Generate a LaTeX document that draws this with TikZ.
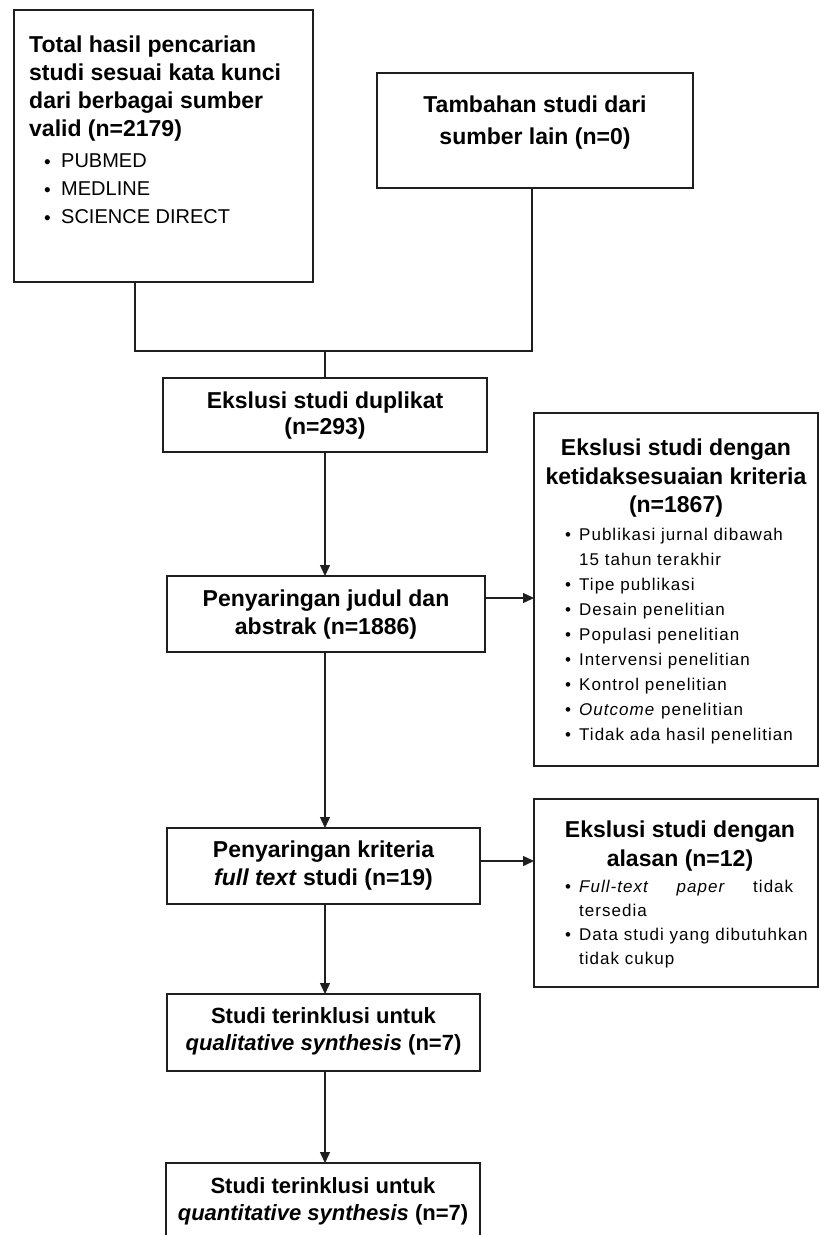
\documentclass[tikz,border=0pt]{standalone}
\usepackage{fontspec}
\setmainfont{Liberation Sans}
\newfontfamily\trackfont[LetterSpace=6]{Liberation Sans}
\usetikzlibrary{arrows.meta}
\newcommand\mybul{\makebox[17pt][l]{\raisebox{-0.05em}{\fontsize{19}{19}\selectfont •}}}
\newcommand\smbul{\makebox[14pt][l]{\raisebox{-0.05em}{\fontsize{17}{17}\selectfont •}}}
\begin{document}
\begin{tikzpicture}[x=1pt,y=-1pt,
  box/.style={draw=black!88, line width=1.4pt, inner sep=0pt, outer sep=0pt},
  conn/.style={draw=black!88, line width=1.4pt},
  arr/.style={conn, -{Triangle[length=11pt,width=10pt]}},
  head/.style={font=\bfseries\fontsize{23}{28}\selectfont, align=center, inner sep=0pt, anchor=north},
  headl/.style={font=\bfseries\fontsize{23}{28}\selectfont, align=left, inner sep=0pt, anchor=north west},
  listA/.style={font=\fontsize{20}{28}\selectfont, align=left, inner sep=0pt, anchor=north west},
  listB/.style={font=\trackfont\fontsize{17}{25}\selectfont, align=left, inner sep=0pt, anchor=north west}
]
\useasboundingbox (0,0) rectangle (819,1235);
\fill[white] (0,0) rectangle (819,1235);

% boxes
\node[box, minimum width=299pt, minimum height=272pt] (b1) at (163.5,146) {};
\node[box, minimum width=316pt, minimum height=115pt] (b2) at (535,130.5) {};
\node[box, minimum width=324pt, minimum height=74pt] (b3) at (325,415) {};
\node[box, minimum width=318pt, minimum height=76pt] (b4) at (326,614) {};
\node[box, minimum width=284pt, minimum height=353pt] (b5) at (676,589.5) {};
\node[box, minimum width=313pt, minimum height=76pt] (b6) at (323.5,866) {};
\node[box, minimum width=284pt, minimum height=188pt] (b7) at (676,893) {};
\node[box, minimum width=313pt, minimum height=77pt] (b8) at (323.5,1032.5) {};
\node[box, minimum width=314pt, minimum height=100pt] (b9) at (323,1213) {};

% texts
\node[headl] (t1) at (29,36) {Total hasil pencarian\\studi sesuai kata kunci\\dari berbagai sumber\\valid (n=2179)};
\node[listA] (t1b) at (44,153.5) {\mybul PUBMED\\\mybul MEDLINE\\\mybul SCIENCE DIRECT};
\node[head, font=\bfseries\fontsize{23}{32}\selectfont] (t2) at (535,96) {Tambahan studi dari\\sumber lain (n=0)};
\node[head, font=\bfseries\fontsize{23}{26}\selectfont] (t3) at (325,392) {Ekslusi studi duplikat\\(n=293)};
\node[head] (t4) at (326,590) {Penyaringan judul dan\\abstrak (n=1886)};
\node[head, font=\bfseries\fontsize{23}{28.5}\selectfont] (t5) at (676,439) {Ekslusi studi dengan\\ketidaksesuaian kriteria\\(n=1867)};
\node[listB] (t5b) at (565,527.5) {\smbul Publikasi jurnal dibawah\\\hspace*{14pt}15 tahun terakhir\\\smbul Tipe publikasi\\\smbul Desain penelitian\\\smbul Populasi penelitian\\\smbul Intervensi penelitian\\\smbul Kontrol penelitian\\\smbul \textit{Outcome} penelitian\\\smbul Tidak ada hasil penelitian};
\node[head] (t6) at (323.5,841) {Penyaringan kriteria\\\textit{full text} studi (n=19)};
\node[head, font=\bfseries\fontsize{23}{29}\selectfont] (t7) at (680,821) {Ekslusi studi dengan\\alasan (n=12)};
\node[listB, font=\trackfont\fontsize{17}{24}\selectfont] (t7b) at (565,879.5) {\smbul\makebox[214pt][l]{\textit{Full-text}\hfill\textit{paper}\hfill tidak}\\\hspace*{14pt}tersedia\\\smbul Data studi yang dibutuhkan\\\hspace*{14pt}tidak cukup};
\node[head, font=\bfseries\fontsize{22}{27}\selectfont] (t8) at (323.5,1007.5) {Studi terinklusi untuk\\\textit{qualitative synthesis} (n=7)};
\node[head, font=\bfseries\fontsize{22}{27}\selectfont] (t9) at (323,1177) {Studi terinklusi untuk\\\textit{quantitative synthesis} (n=7)};

% connectors
\coordinate (jl) at (135,351);
\coordinate (jr) at (532,351);
\coordinate (jm) at (325,351);
\draw[conn] (jl |- b1.south) -- (jl) -- (jr) -- (jr |- b2.south);
\draw[conn] (jm) -- (jm |- b3.north);
\draw[arr] (b3.south) -- (b3.south |- b4.north);
\draw[arr] ([yshift=16pt]b4.east) -- ([yshift=16pt]b4.east -| b5.west);
\draw[arr] ([xshift=-1pt]b4.south) -- ([xshift=-1pt]b4.south |- b6.north);
\draw[arr] ([yshift=5pt]b6.east) -- ([yshift=5pt]b6.east -| b7.west);
\draw[arr] ([xshift=1.5pt]b6.south) -- ([xshift=1.5pt]b6.south |- b8.north);
\draw[arr] ([xshift=1.5pt]b8.south) -- ([xshift=1.5pt]b8.south |- b9.north);
\end{tikzpicture}
\end{document}
